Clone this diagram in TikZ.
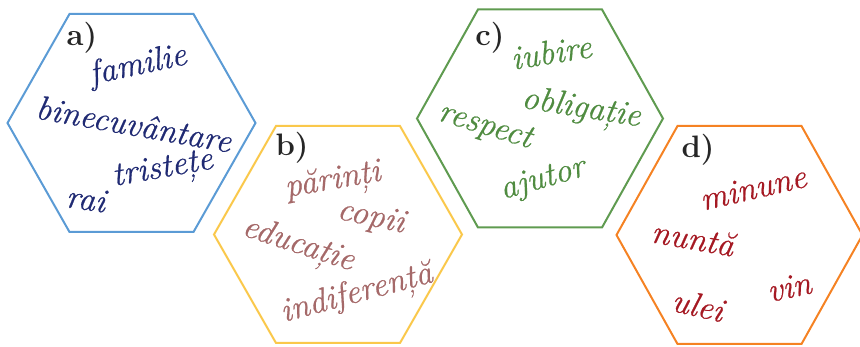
\documentclass[tikz,border=0pt]{standalone}
\usepackage{fontspec}
\newfontfamily\wordfont[FakeBold=0.6]{Latin Modern Roman}
\usepackage{xcolor}
\definecolor{hexblue}{RGB}{91,155,213}
\definecolor{hexyellow}{RGB}{250,200,75}
\definecolor{hexgreen}{RGB}{95,155,80}
\definecolor{hexorange}{RGB}{245,130,35}
\definecolor{wordnavy}{RGB}{32,42,115}
\definecolor{wordrose}{RGB}{165,105,105}
\definecolor{wordgreen}{RGB}{80,140,65}
\definecolor{wordred}{RGB}{165,25,35}

\begin{document}
\begin{tikzpicture}[x=1pt,y=-1pt,
    hex/.style={line width=2pt,line join=miter},
    tag/.style={font=\fontsize{31}{31}\selectfont\bfseries,text=black!85,inner sep=0pt},
    word/.style={font=\fontsize{34}{34}\wordfont\itshape,inner sep=0pt}]
    \useasboundingbox (0,0) rectangle (860,347);

    \draw[hex,hexblue]   (131.5,123) ++(-124,0) -- ++(62,-109) -- ++(124,0) -- ++(62,109) -- ++(-62,109) -- ++(-124,0) -- cycle;
    \draw[hex,hexyellow] (338,234.5) ++(-124,0) -- ++(62,-108.5) -- ++(124,0) -- ++(62,108.5) -- ++(-62,108.5) -- ++(-124,0) -- cycle;
    \draw[hex,hexgreen]  (540,118.5) ++(-123,0) -- ++(61,-109) -- ++(124,0) -- ++(61,109) -- ++(-61,109) -- ++(-124,0) -- cycle;
    \draw[hex,hexorange] (738.5,235) ++(-122,0) -- ++(61,-109) -- ++(124,0) -- ++(61,109) -- ++(-61,109) -- ++(-124,0) -- cycle;

    % a)
    \node[tag] (taga) at (82,38) {a)};
    \node[word,wordnavy,rotate=12]  (familie)  at (138,66)  {familie};
    \node[word,wordnavy,rotate=-10] (binecuv)  at (134,124) {binecuvântare};
    \node[word,wordnavy,rotate=10]  (tristete) at (163,171) {tristețe};
    \node[word,wordnavy,rotate=-8]  (rai)      at (86,199)  {rai};

    % b)
    \node[tag] (tagb) at (292,148) {b)};
    \node[word,wordrose,rotate=10]  (parinti)  at (333,182) {părinți};
    \node[word,wordrose,rotate=-12] (copii)    at (371,218) {copii};
    \node[word,wordrose,rotate=-18] (educatie) at (298,246) {educație};
    \node[word,wordrose,rotate=15]  (indif)    at (357,295) {indiferență};

    % c)
    \node[tag] (tagc) at (490,38) {c)};
    \node[word,wordgreen,rotate=9]   (iubire)   at (551,52)  {iubire};
    \node[word,wordgreen,rotate=-9]  (obligatie) at (581,110) {obligație};
    \node[word,wordgreen,rotate=-17] (respect)  at (485,127) {respect};
    \node[word,wordgreen,rotate=16]  (ajutor)   at (543,180) {ajutor};

    % d)
    \node[tag] (tagd) at (698,150) {d)};
    \node[word,wordred,rotate=13]  (minune) at (753,188) {minune};
    \node[word,wordred,rotate=-10] (nunta)  at (693,238) {nuntă};
    \node[word,wordred,rotate=12]  (vin)    at (789,287) {vin};
    \node[word,wordred,rotate=-13] (ulei)   at (698,305) {ulei};
\end{tikzpicture}
\end{document}
